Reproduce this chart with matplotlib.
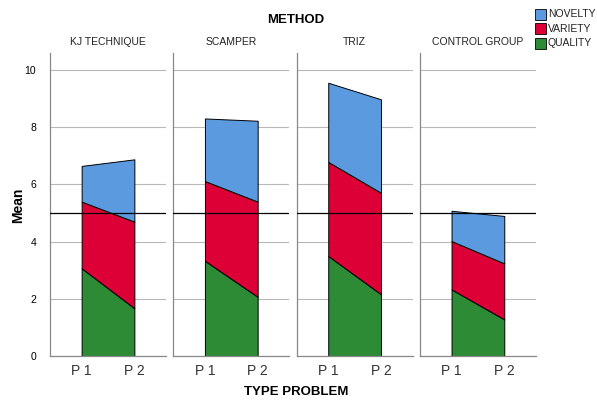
import matplotlib.pyplot as plt
from matplotlib.patches import Rectangle

plt.rcParams["font.family"] = ["Liberation Sans", "DejaVu Sans"]

methods = ["KJ TECHNIQUE", "SCAMPER", "TRIZ", "CONTROL GROUP"]
problems = ["P 1", "P 2"]
series = ["NOVELTY", "VARIETY", "QUALITY"]

quality = [[3.07, 1.67], [3.33, 2.07], [3.50, 2.16], [2.33, 1.28]]
variety = [[2.33, 3.03], [2.79, 3.33], [3.29, 3.55], [1.69, 1.96]]
novelty = [[1.25, 2.18], [2.19, 2.83], [2.77, 3.27], [1.06, 1.66]]

colors = {"QUALITY": "#2e8b35", "VARIETY": "#dc0036", "NOVELTY": "#5b9ade"}

fig = plt.figure(figsize=(5.97, 4.0), dpi=100)

left0 = 50 / 597
width = 116 / 597
step = 123.3 / 597
bottom = 1 - 356 / 400
height = (356 - 53) / 400

x = [1, 2]
for i, method in enumerate(methods):
    ax = fig.add_axes([left0 + i * step, bottom, width, height])
    base = [0, 0]
    for name, vals in [("QUALITY", quality[i]), ("VARIETY", variety[i]), ("NOVELTY", novelty[i])]:
        top = [b + v for b, v in zip(base, vals)]
        ax.fill_between(x, base, top, facecolor=colors[name], edgecolor="black",
                        linewidth=0.7, zorder=2)
        base = top
    ax.axhline(5, color="black", linewidth=0.9, zorder=4)
    ax.set_xlim(0.4, 2.6)
    ax.set_ylim(0, 10.6)
    ax.set_yticks([0, 2, 4, 6, 8, 10])
    ax.yaxis.grid(True, color="#b8b8b8", linewidth=0.8, zorder=0)
    ax.set_axisbelow(True)
    ax.set_xticks(x)
    ax.set_xticklabels(problems, fontsize=10, color="#333333")
    ax.tick_params(length=0, pad=6)
    ax.tick_params(axis="y", labelsize=7.5, pad=10)
    for s in ["top", "right"]:
        ax.spines[s].set_visible(False)
    for s in ["left", "bottom"]:
        ax.spines[s].set_color("#888888")
        ax.spines[s].set_linewidth(0.9)
    if i > 0:
        ax.set_yticklabels([])
    ax.set_title(method, fontsize=7.5, pad=6, color="#222222")

fig.text(18 / 597, 1 - 205 / 400, "Mean", ha="center", va="center", rotation=90,
         fontsize=10, fontweight="bold")
fig.text(296 / 597, 1 - 20 / 400, "METHOD", ha="center", va="center",
         fontsize=9.5, fontweight="bold")
fig.text(296 / 597, 1 - 392 / 400, "TYPE PROBLEM", ha="center", va="center",
         fontsize=9.5, fontweight="bold")

for k, name in enumerate(series):
    yc = 1 - (14 + 14.5 * k) / 400
    fig.patches.append(Rectangle((535 / 597, yc - 5.5 / 400), 11 / 597, 11 / 400,
                                 transform=fig.transFigure, facecolor=colors[name],
                                 edgecolor="black", linewidth=0.6))
    fig.text(548 / 597, yc, name, ha="left", va="center", fontsize=7.5, color="#222222")

fig.savefig("out.png", dpi=100)
